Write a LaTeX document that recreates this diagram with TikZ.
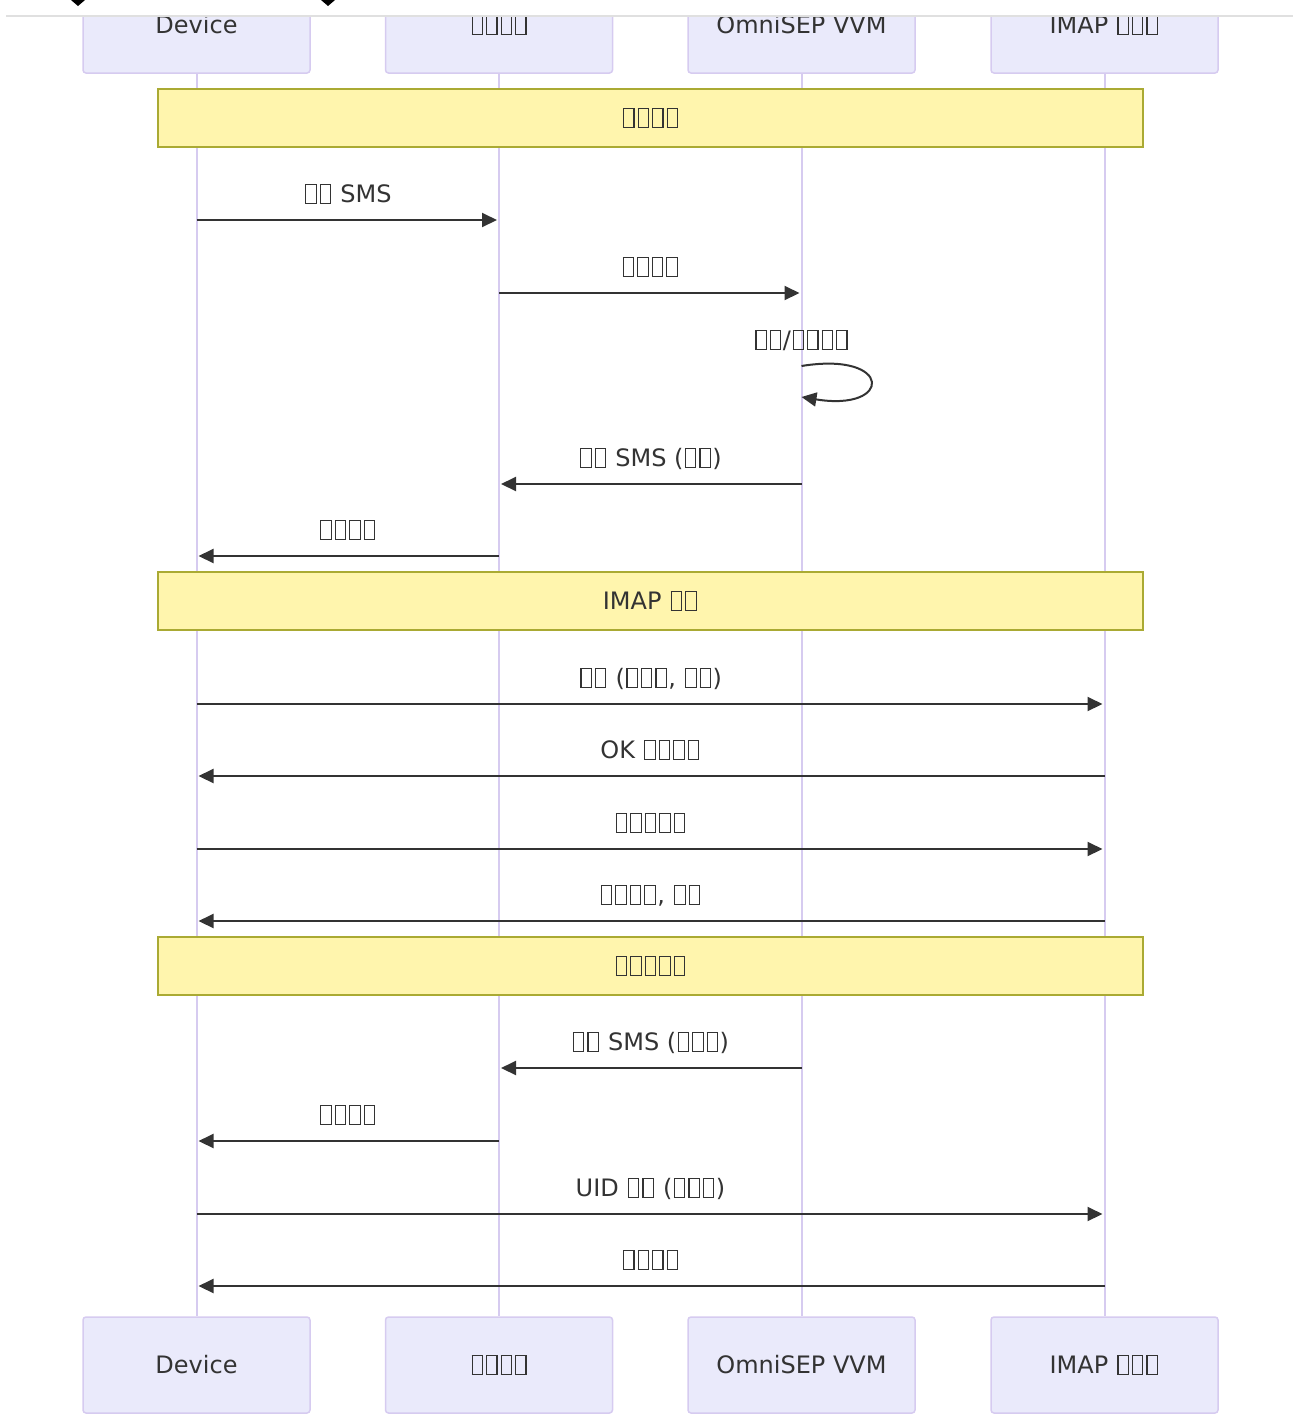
\documentclass[tikz,border=0pt]{standalone}
\usepackage{fontspec}
\setmainfont{DejaVu Sans}
\usetikzlibrary{arrows.meta}

\definecolor{actfill}{HTML}{EAEAFB}
\definecolor{actline}{HTML}{D6CBF0}
\definecolor{notefill}{HTML}{FFF5AD}
\definecolor{noteline}{HTML}{AAAA33}
\definecolor{ink}{HTML}{333333}

% 缺字方框
\newcommand{\tf}{\kern1.5pt{\setlength{\fboxsep}{0pt}\setlength{\fboxrule}{1.1pt}%
  \raisebox{-0.9pt}{\fbox{\rule{0pt}{17.8pt}\hspace{9.3pt}}}}\kern1.5pt}

\begin{document}
\begin{tikzpicture}[x=1pt, y=-1pt, text=ink,
  actor/.style={draw=actline, fill=actfill, line width=1.5pt, rounded corners=3pt,
    minimum width=227pt, minimum height=96pt, inner sep=0pt,
    font=\fontsize{24}{29}\selectfont},
  life/.style={draw=actline, line width=2pt},
  note/.style={draw=noteline, fill=notefill, line width=1.5pt,
    minimum width=985pt, minimum height=58pt, inner sep=0pt,
    font=\fontsize{24}{29}\selectfont},
  msg/.style={draw=ink, line width=2pt, -{Triangle[length=15pt, width=14pt]},
    shorten >=2pt},
  lbl/.style={anchor=base, yshift=18pt, inner sep=0pt,
    font=\fontsize{24}{29}\selectfont}]
  \useasboundingbox (0,0) rectangle (1299,1414);

  % 参与者
  \node[actor] (dev)  at (196.5,25) {Device};
  \node[actor] (smsc) at (499,25)   {\tf\tf\tf\tf};
  \node[actor] (vvm)  at (801.5,25) {OmniSEP VVM};
  \node[actor] (imap) at (1104.5,25) {IMAP \tf\tf\tf};
  \node[actor] (devB)  at (196.5,1365) {Device};
  \node[actor] (smscB) at (499,1365)   {\tf\tf\tf\tf};
  \node[actor] (vvmB)  at (801.5,1365) {OmniSEP VVM};
  \node[actor] (imapB) at (1104.5,1365) {IMAP \tf\tf\tf};

  % 生命线
  \draw[life] (dev.south)  -- (devB.north);
  \draw[life] (smsc.south) -- (smscB.north);
  \draw[life] (vvm.south)  -- (vvmB.north);
  \draw[life] (imap.south) -- (imapB.north);

  % 顶部截断
  \fill[white] (0,0) rectangle (1299,15);
  \fill[black!12] (6,15) rectangle (1293,17);
  \fill[black] (71,0) -- (78,6) -- (85,0) -- cycle;
  \fill[black] (321,0) -- (328,6) -- (335,0) -- cycle;

  % 注释
  \node[note] (n1) at (650.5,118) {\tf\tf\tf\tf};
  \node[note] (n2) at (650.5,601) {IMAP \tf\tf};
  \node[note] (n3) at (650.5,966) {\tf\tf\tf\tf\tf};

  % 消息行
  \coordinate (r1) at (0,220);
  \coordinate (r2) at (0,293);
  \coordinate (r3a) at (0,366);
  \coordinate (r3b) at (0,397);
  \coordinate (r4) at (0,484);
  \coordinate (r5) at (0,556);
  \coordinate (r6) at (0,704);
  \coordinate (r7) at (0,776);
  \coordinate (r8) at (0,849);
  \coordinate (r9) at (0,921);
  \coordinate (r10) at (0,1068);
  \coordinate (r11) at (0,1141);
  \coordinate (r12) at (0,1214);
  \coordinate (r13) at (0,1286);

  \draw[msg] (dev |- r1) -- (smsc |- r1) node[lbl, midway] {\tf\tf{} SMS};
  \draw[msg] (smsc |- r2) -- (vvm |- r2) node[lbl, midway] {\tf\tf\tf\tf};
  % 自调用
  \node[lbl] (selflbl) at (vvm |- r3a) {\tf\tf/\tf\tf\tf\tf};
  \draw[msg, shorten >=0pt] (vvm |- r3a) .. controls (893,351) and (893,412) .. (vvm |- r3b);
  \draw[msg] (vvm |- r4) -- (smsc |- r4) node[lbl, midway] {\tf\tf{} SMS (\tf\tf)};
  \draw[msg] (smsc |- r5) -- (dev |- r5) node[lbl, midway] {\tf\tf\tf\tf};

  \draw[msg] (dev |- r6) -- (imap |- r6) node[lbl, midway] {\tf\tf{} (\tf\tf\tf, \tf\tf)};
  \draw[msg] (imap |- r7) -- (dev |- r7) node[lbl, midway] {OK \tf\tf\tf\tf};
  \draw[msg] (dev |- r8) -- (imap |- r8) node[lbl, midway] {\tf\tf\tf\tf\tf};
  \draw[msg] (imap |- r9) -- (dev |- r9) node[lbl, midway] {\tf\tf\tf\tf, \tf\tf};

  \draw[msg] (vvm |- r10) -- (smsc |- r10) node[lbl, midway] {\tf\tf{} SMS (\tf\tf\tf)};
  \draw[msg] (smsc |- r11) -- (dev |- r11) node[lbl, midway] {\tf\tf\tf\tf};
  \draw[msg] (dev |- r12) -- (imap |- r12) node[lbl, midway] {UID \tf\tf{} (\tf\tf\tf)};
  \draw[msg] (imap |- r13) -- (dev |- r13) node[lbl, midway] {\tf\tf\tf\tf};
\end{tikzpicture}
\end{document}
